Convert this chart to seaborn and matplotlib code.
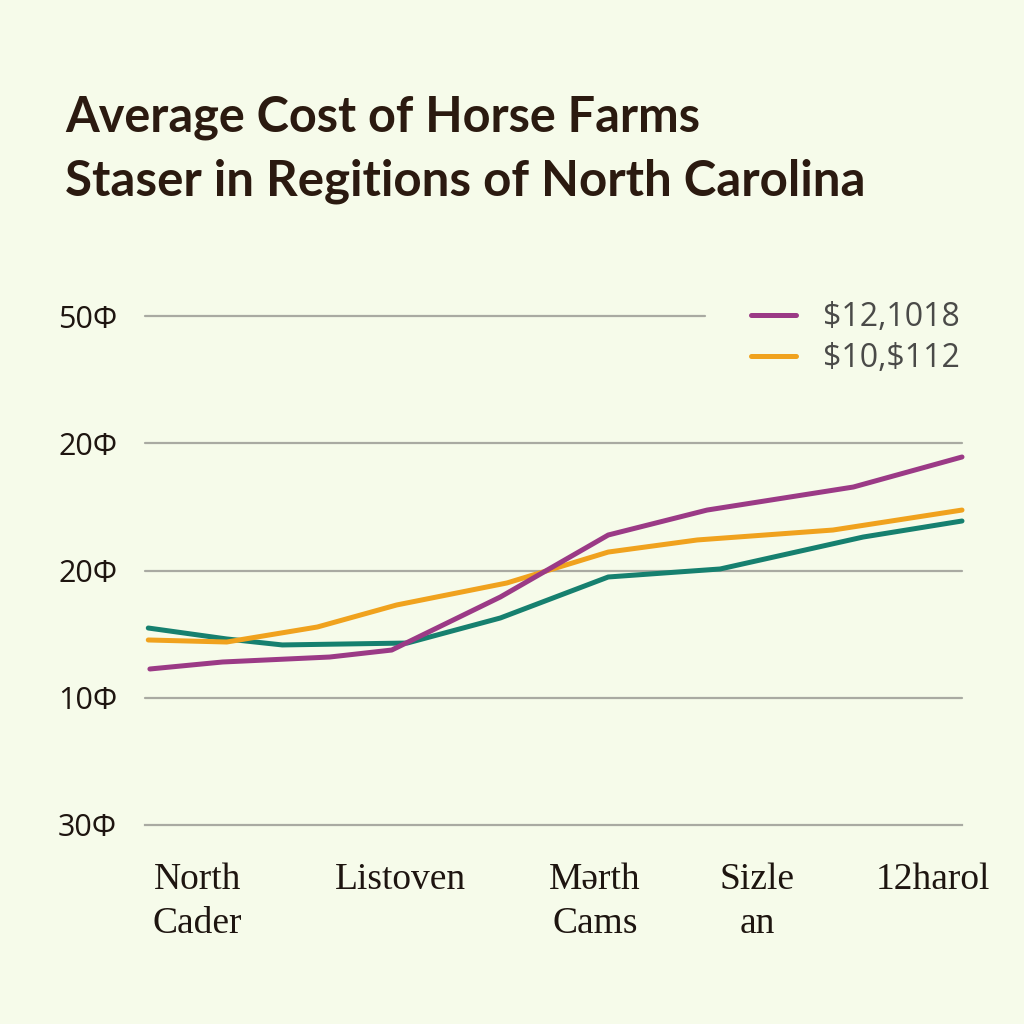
import pandas as pd
from matplotlib import pyplot as plt
from matplotlib.lines import Line2D
import seaborn as sns

# values (x on a 0-100 position scale, y in axis units)
purple_x = [0.6, 9.5, 22.6, 30.2, 43.5, 56.7, 68.8, 86.7, 100]
purple_y = [122.6, 128.1, 132.0, 137.5, 179.2, 227.9, 247.5, 265.6, 289.2]
orange_x = [0.4, 10.0, 21.1, 30.8, 44.3, 56.7, 67.6, 84.2, 100]
orange_y = [145.4, 143.8, 155.6, 172.9, 190.2, 214.5, 224.0, 231.8, 247.5]
teal_x = [0.4, 10.0, 16.8, 32.1, 43.5, 56.7, 70.4, 87.9, 100]
teal_y = [154.8, 146.2, 141.5, 143.0, 162.7, 194.9, 201.2, 226.3, 238.9]

series_names = ['$12,1018', '$10,$112', 'third']
y_ticks = [0, 100, 200, 300, 400]
y_labels = ['30Φ', '10Φ', '20Φ', '20Φ', '50Φ']
x_ticks = [6.4, 31.3, 55.1, 74.9, 96.5]
x_labels = ['North\nCader', 'Listoven', 'Mərth\nCams', 'Sizle\nan', '12harol']
title_lines = ['Average Cost of Horse Farms', 'Staser in Regitions of North Carolina']

colors = ['#9b3a86', '#f0a21e', '#16806f']
bg = '#f6fbea'

df = pd.concat([
    pd.DataFrame({'x': purple_x, 'y': purple_y, 'series': series_names[0]}),
    pd.DataFrame({'x': orange_x, 'y': orange_y, 'series': series_names[1]}),
    pd.DataFrame({'x': teal_x, 'y': teal_y, 'series': series_names[2]}),
])

sns.set_style('white')
fig = plt.figure(figsize=(10.24, 10.24), dpi=100, facecolor=bg)
ax = fig.add_axes([145 / 1024, 199 / 1024, 817 / 1024, 509 / 1024])
ax.set_facecolor(bg)

grid_col = '#a9aaa2'
# grid lines (top one stops short of the legend)
for yt in y_ticks[1:]:
    ax.axhline(yt, xmin=0, xmax=0.685 if yt == 400 else 1, color=grid_col, lw=1.6, zorder=1)

sns.lineplot(data=df, x='x', y='y', hue='series', hue_order=series_names[::-1],
             palette=dict(zip(series_names, colors)), linewidth=3.6, sort=False,
             legend=False, ax=ax, zorder=3)
for ln in ax.lines:
    ln.set_clip_on(False)
    ln.set_solid_capstyle('round')

ax.set_xlim(0, 100)
ax.set_ylim(0, 400)
ax.set_xlabel('')
ax.set_ylabel('')
for s in ['top', 'right', 'left']:
    ax.spines[s].set_visible(False)
ax.spines['bottom'].set_color(grid_col)
ax.spines['bottom'].set_linewidth(1.6)

ax.set_yticks(y_ticks)
ax.set_yticklabels(y_labels, fontsize=22, color='#1e1510', family=['Open Sans', 'DejaVu Sans'])
ax.tick_params(axis='y', length=0, pad=20)
for lab in ax.get_yticklabels():
    lab.set_horizontalalignment('right')

ax.set_xticks(x_ticks)
ax.set_xticklabels(x_labels, fontsize=27, color='#1e1510', family=['Liberation Serif', 'DejaVu Serif'],
                   linespacing=1.35)
ax.tick_params(axis='x', length=7, width=1.5, color=grid_col, pad=20, direction='out')

# legend: only purple and orange
handles = [Line2D([], [], color=colors[0], lw=3.6, solid_capstyle='round'),
           Line2D([], [], color=colors[1], lw=3.6, solid_capstyle='round')]
leg = fig.legend(handles, [n.replace('$', r'\$') for n in series_names[:2]],
                 loc='upper right', bbox_to_anchor=(960 / 1024, 1 - 301 / 1024),
                 frameon=False, handlelength=1.4, handletextpad=0.85,
                 labelspacing=0.25, borderaxespad=0, borderpad=0,
                 prop={'family': ['Open Sans', 'DejaVu Sans'], 'size': 23})
for t in leg.get_texts():
    t.set_color('#4a4a48')

fig.text(65 / 1024, 1 - 132 / 1024, title_lines[0], fontsize=35, fontweight='bold',
         color='#2b1a10', family=['Lato', 'DejaVu Sans'], va='baseline')
fig.text(65 / 1024, 1 - 195 / 1024, title_lines[1], fontsize=35.5, fontweight='bold',
         color='#2b1a10', family=['Lato', 'DejaVu Sans'], va='baseline')

fig.savefig('out.png', dpi=100, facecolor=bg)
